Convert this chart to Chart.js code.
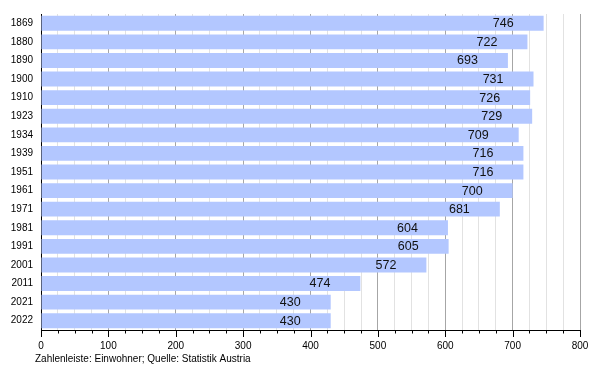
<!DOCTYPE html>
<html>
<head>
<meta charset="utf-8">
<script src="https://cdn.jsdelivr.net/npm/chart.js@4.4.0/dist/chart.umd.min.js"></script>
<style>
  html,body{margin:0;padding:0;background:#fff;}
  #wrap{width:600px;height:370px;}
</style>
</head>
<body>
<div id="wrap"><canvas id="chartEinwohner"></canvas></div>
<script>
// Bevölkerungsentwicklung
var jahre = ["1869","1880","1890","1900","1910","1923","1934","1939","1951","1961","1971","1981","1991","2001","2011","2021","2022"];
var einwohner = [746,722,693,731,726,729,709,716,716,700,681,604,605,572,474,430,430];
var achseMin = 0;
var achseMax = 800;
var fussnote = "Zahlenleiste: Einwohner; Quelle: Statistik Austria";

var schrift = "'Liberation Sans', Arial, sans-serif";

// value labels inside the end of each bar
var wertePlugin = {
	id: 'werte',
	afterDatasetsDraw: function(chart){
		var ctx = chart.ctx;
		var meta = chart.getDatasetMeta(0);
		ctx.save();
		ctx.font = "12.5px " + schrift;
		ctx.fillStyle = "#111";
		ctx.textAlign = "right";
		ctx.textBaseline = "middle";
		meta.data.forEach(function(bar, i){
			ctx.fillText(einwohner[i], bar.x - 30, bar.y + 0.5);
		});
		ctx.restore();
	}
};

// tick marks under the x axis (long at 100, short at 25) and footer text
var achsePlugin = {
	id: 'achse',
	afterDraw: function(chart){
		var ctx = chart.ctx;
		var x = chart.scales.x;
		var unten = chart.chartArea.bottom;
		ctx.save();
		ctx.strokeStyle = "#000";
		ctx.lineWidth = 1;
		x.ticks.forEach(function(t){
			var px = Math.round(x.getPixelForValue(t.value)) + 0.5;
			var len = (t.value % 100 === 0) ? 7 : 3.5;
			ctx.beginPath();
			ctx.moveTo(px, unten);
			ctx.lineTo(px, unten + len);
			ctx.stroke();
		});
		ctx.font = "10px " + schrift;
		ctx.fillStyle = "#000";
		ctx.textAlign = "left";
		ctx.textBaseline = "middle";
		ctx.fillText(fussnote, 35, 359);
		ctx.restore();
	}
};

new Chart(document.getElementById("chartEinwohner"), {
	type: 'bar',
	data: {
		labels: jahre,
		datasets: [
			{
				label: "Einwohner",
				backgroundColor: "rgb(179,199,255)",
				borderWidth: 0,
				barPercentage: 0.8,
				categoryPercentage: 1.0,
				data: einwohner
			}
		]
	},
	plugins: [wertePlugin, achsePlugin],
	options: {
		indexAxis: 'y',
		responsive: true,
		maintainAspectRatio: false,
		animation: false,
		layout: { padding: { top: 10, right: 20, left: 0, bottom: 0 } },
		plugins: {
			legend: { display: false },
			tooltip: { enabled: false }
		},
		scales: {
			x: {
				min: achseMin,
				max: achseMax,
				afterFit: function(scale){ scale.height = 40; },
				border: { display: true, color: "#000", width: 1 },
				grid: {
					drawTicks: false,
					color: function(c){ return (c.tick && c.tick.value % 100 === 0) ? "#a6a6a6" : "#e2e2e2"; },
					lineWidth: 1
				},
				ticks: {
					stepSize: 25,
					autoSkip: false,
					maxRotation: 0,
					padding: 10,
					color: "#000",
					font: { family: schrift, size: 10 },
					callback: function(v){ return (v % 100 === 0) ? v : ''; }
				}
			},
			y: {
				afterFit: function(scale){ scale.width = 41; },
				border: { display: true, color: "#000", width: 1 },
				grid: { display: false, drawTicks: false },
				ticks: {
					padding: 8,
					color: "#000",
					font: { family: schrift, size: 10 }
				}
			}
		}
	}
});
</script>
</body>
</html>
